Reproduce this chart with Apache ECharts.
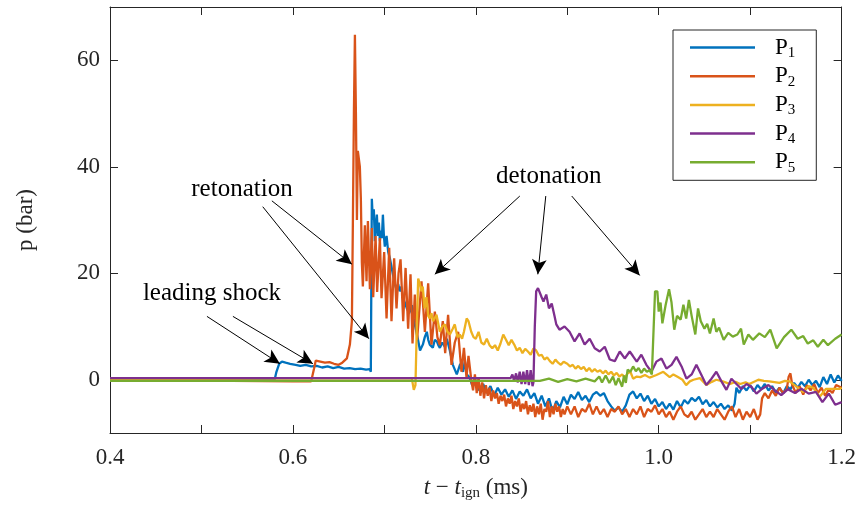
<!DOCTYPE html>
<html><head><meta charset="utf-8">
<script src="https://cdn.jsdelivr.net/npm/echarts@6/dist/echarts.min.js"></script>
<style>html,body{margin:0;padding:0;background:#fff}#c{width:859px;height:508px}</style>
</head><body><div id="c"></div>
<script>
// ---- axis ticks ----
const xTicks = [0.4, 0.5, 0.6, 0.7, 0.8, 0.9, 1.0, 1.1, 1.2];
const xTickLabels = [0.4, 0.6, 0.8, 1.0, 1.2];
const yTicks = [0, 20, 40, 60];
const seriesNames = ['P1', 'P2', 'P3', 'P4', 'P5'];

// ---- data: [t (ms), p (bar)] ----
const p1 = [[0.400,0.0],[0.580,0.0],[0.582,1.5],[0.585,3.0],[0.588,3.4],[0.592,3.2],[0.597,3.0],[0.603,2.8],[0.608,2.6],[0.614,2.8],[0.620,2.5],[0.626,2.6],[0.632,2.3],[0.638,2.5],[0.644,2.2],[0.650,2.4],[0.656,2.1],[0.662,2.2],[0.668,2.0],[0.674,2.1],[0.680,1.9],[0.684,2.0],[0.6852,1.5],
[0.6863,34],[0.6874,30],[0.6885,32],[0.6896,26],[0.6907,29],[0.6918,31],[0.6929,27],[0.6940,29.5],[0.6951,26],[0.6962,28],[0.6973,26.6],[0.6984,31],[0.6995,27],[0.7005,25],[0.7024,27],[0.7042,24],[0.7060,22.8],[0.7075,21.5],[0.7093,19.8],[0.7115,18],[0.7137,16.6],[0.7151,18],[0.7169,16.6],[0.7185,17.5],[0.7202,15.5],[0.7224,14.5],[0.7246,13.4],[0.7272,12.5],[0.7301,14],[0.7320,11.5],[0.7333,10.4],[0.7350,9],[0.7366,7.7],[0.7390,5.5],[0.7421,6.6],[0.7442,8],[0.7464,9],[0.7480,7.5],[0.7497,6.6],[0.7530,6],[0.7552,7.5],[0.7574,7.2],[0.7590,6.5],[0.7607,6],[0.7634,7],[0.7660,6.2],[0.7683,7.7],[0.7716,5.5],[0.7749,2.8],[0.7792,1.0],[0.7830,3],[0.7860,1.5],[0.7880,3.5],[0.7900,1],[0.7930,0.5],[0.7960,-1],[0.7990,0.2],
[0.800,-0.5],[0.804,-2.0],[0.808,-0.8],[0.812,-2.5],[0.816,-1.2],[0.820,-3.0],[0.824,-1.5],[0.828,-2.8],[0.832,-1.8],[0.836,-3.2],[0.840,-2.0],[0.844,-3.6],[0.848,-2.2],[0.852,-3.0],[0.856,-1.8],[0.860,-3.5],[0.864,-2.5],[0.868,-4.5],[0.872,-3.0],[0.876,-5.0],[0.880,-3.5],[0.884,-6.0],[0.888,-4.0],[0.892,-5.2],[0.896,-3.2],[0.900,-4.6],[0.904,-2.8],[0.908,-3.6],[0.912,-2.3],[0.916,-3.8],[0.920,-3.0],[0.924,-4.2],[0.928,-2.8],[0.932,-2.3],[0.936,-3.0],[0.940,-2.5],[0.944,-4.0],[0.948,-5.0],[0.952,-5.8],[0.956,-5.2],[0.960,-6.0],[0.964,-4.8],[0.968,-2.8],[0.972,-2.2],[0.976,-3.5],[0.980,-2.6],[0.984,-4.0],[0.988,-3.0],[0.992,-4.5],[0.996,-3.6],
[1.000,-5.0],[1.004,-4.2],[1.008,-5.5],[1.012,-4.5],[1.016,-5.6],[1.020,-4.0],[1.024,-5.2],[1.028,-3.8],[1.032,-4.5],[1.036,-3.4],[1.040,-4.0],[1.044,-3.2],[1.048,-4.6],[1.052,-3.8],[1.056,-5.0],[1.060,-4.2],[1.064,-5.2],[1.068,-4.5],[1.072,-5.5],[1.076,-4.8],[1.080,-5.8],[1.083,-4.5],[1.085,-1.5],[1.088,-2.5],[1.092,-1.2],[1.096,-2.0],[1.100,-1.0],[1.104,-2.2],[1.108,-1.0],[1.112,-1.8],[1.116,-0.8],[1.120,-2.0],[1.124,-1.2],[1.128,-2.4],[1.132,-1.5],[1.136,-2.6],[1.140,-1.2],[1.144,-1.8],[1.148,-0.6],[1.152,-1.5],[1.156,-0.4],[1.160,-1.2],[1.164,0.0],[1.168,-1.0],[1.172,-0.2],[1.176,-1.4],[1.180,0.5],[1.184,-0.8],[1.188,1.0],[1.192,-0.5],[1.196,0.8],[1.200,-0.2]];

const p2 = [[0.400,0.0],[0.600,-0.3],[0.620,-0.3],[0.622,0],[0.623,2.0],[0.625,3.6],[0.630,3.4],[0.635,3.2],[0.640,3.3],[0.645,3.0],[0.650,2.8],[0.654,3.2],[0.6590,4.0],[0.6623,6.6],[0.6645,11],[0.6656,30],[0.6667,50],[0.6678,64.8],[0.6689,50],[0.6700,30],[0.6710,43],[0.6732,40],[0.6743,34],[0.6754,22],[0.6765,17.5],[0.6787,29],[0.6805,18.5],[0.6820,29.8],[0.6842,17],[0.6863,28.5],[0.6878,15.5],[0.6904,27],[0.6921,16.5],[0.6951,26.6],[0.6969,15.3],[0.6998,24],[0.7024,11.5],[0.7053,24.8],[0.7078,11],[0.7107,22.8],[0.7133,13.4],[0.7155,20],[0.7177,22.6],[0.7206,11],[0.7232,21],[0.7260,9.6],[0.7286,19.8],[0.7308,6.8],[0.7333,16],[0.7358,7.5],[0.7406,18.5],[0.7443,9],[0.7479,18.1],[0.7515,6.6],[0.7552,12.8],[0.7580,8],[0.7607,6.5],[0.7639,11],[0.7665,5],[0.7697,12.2],[0.7734,2.8],[0.7770,7],[0.7807,9],[0.7843,1.5],[0.7870,6.0],[0.7898,0.5],[0.7920,4.5],[0.7953,-0.4],[0.7970,-2.0],[0.7990,1.0],
[0.8010,-2.5],[0.8030,0.5],[0.8050,-3.0],[0.8070,-0.5],[0.8090,-3.5],[0.8110,-1.0],[0.8130,-3.0],[0.8150,-1.5],[0.8170,-4.0],[0.8190,-2.0],[0.8210,-3.5],[0.8230,-2.5],[0.8250,-4.5],[0.8270,-3.0],[0.8290,-4.0],[0.8310,-2.8],[0.8330,-5.0],[0.8350,-3.5],[0.8370,-4.5],[0.8390,-3.0],[0.8410,-5.5],[0.8430,-4.0],[0.8450,-5.0],[0.8470,-3.5],[0.8490,-6.0],[0.8510,-4.5],[0.8530,-5.5],[0.8550,-4.0],[0.8570,-6.5],[0.8590,-4.8],[0.8610,-6.0],[0.8630,-4.5],[0.8650,-7.0],[0.8670,-5.0],[0.8690,-6.5],[0.8710,-4.5],[0.8730,-7.5],[0.8750,-5.5],[0.8770,-6.0],[0.8790,-4.0],[0.8810,-7.0],[0.8830,-5.0],[0.8850,-6.5],[0.8870,-4.5],[0.8890,-6.0],[0.8910,-5.0],[0.8930,-7.0],[0.8950,-5.5],[0.8970,-6.5],
[0.9000,-5.0],[0.9040,-6.5],[0.9080,-5.0],[0.9120,-7.0],[0.9160,-5.5],[0.9200,-6.0],[0.9240,-4.5],[0.9280,-6.5],[0.9320,-5.0],[0.9360,-6.5],[0.9400,-5.5],[0.9440,-7.0],[0.9480,-5.5],[0.9520,-6.0],[0.9560,-5.0],[0.9600,-6.5],[0.9640,-5.5],[0.9680,-7.0],[0.9720,-5.5],[0.9760,-6.5],[0.9800,-5.0],[0.9840,-7.0],[0.9880,-5.5],[0.9920,-6.0],[0.9960,-4.8],[1.0000,-6.5],[1.0040,-5.5],[1.0080,-7.0],[1.0120,-6.0],[1.0160,-7.5],[1.0200,-6.0],[1.0240,-5.0],[1.0280,-6.5],[1.0320,-7.0],[1.0360,-6.0],[1.0400,-7.5],[1.0440,-6.5],[1.0480,-5.5],[1.0520,-7.0],[1.0560,-6.0],[1.0600,-7.0],[1.0640,-5.5],[1.0680,-6.5],[1.0720,-7.5],[1.0760,-6.0],[1.0800,-5.0],[1.0840,-7.0],[1.0880,-5.5],[1.0920,-7.5],[1.0960,-6.0],[1.1000,-7.0],[1.1040,-5.5],[1.1080,-7.5],[1.1110,-6.5],[1.1130,-3.5],[1.1160,-2.5],[1.1200,-3.5],[1.1240,-2.0],[1.1280,-3.0],[1.1320,-1.5],[1.1360,-2.5],[1.1400,-1.8],[1.1420,0.5],[1.1440,1.2],[1.1460,-1.0],[1.1500,-2.5],[1.1540,-1.2],[1.1580,-2.8],[1.1620,-1.0],[1.1660,-2.0],[1.1700,-0.8],[1.1740,-2.5],[1.1780,-1.5],[1.1820,-3.0],[1.1860,-1.8],[1.1900,-2.5],[1.1940,-1.0],[1.2000,-1.5]];

const p3 = [[0.400,0.1],[0.7300,0.3],[0.7322,-1.9],[0.7340,-1.0],[0.7355,10],[0.7370,19.0],[0.7388,18.0],[0.7406,16.6],[0.7420,17.5],[0.7440,13.4],[0.7460,15.5],[0.7480,12.0],[0.7497,11.5],[0.7515,12.5],[0.7533,11],[0.7570,12.2],[0.7607,9.0],[0.7634,10.0],[0.7661,10.4],[0.7690,9.0],[0.7716,8.5],[0.7745,9.5],[0.7770,10.4],[0.7800,8.0],[0.7825,8.5],[0.7850,7.7],[0.7870,9.0],[0.7900,11.5],[0.7920,11.0],[0.7950,9.0],[0.7975,8.0],[0.8000,7.7],[0.8030,9.0],[0.8060,7.0],[0.8090,6.6],[0.8120,7.7],[0.8150,6.5],[0.8180,5.9],[0.8210,6.5],[0.8240,5.5],[0.8270,6.8],[0.8300,8.5],[0.8330,7.5],[0.8360,6.5],[0.8390,7.5],[0.8420,6.6],[0.8450,5.5],[0.8480,6.0],[0.8510,5.0],[0.8540,5.8],[0.8570,5.3],[0.8600,4.7],[0.8630,5.9],[0.8660,5.5],[0.8690,4.5],[0.8720,4.7],[0.8750,3.8],[0.8780,4.2],[0.8810,3.5],[0.8840,3.0],[0.8870,3.8],[0.8900,3.2],[0.8930,2.8],[0.8960,3.4],[0.9000,3.0],[0.9030,2.5],[0.9060,2.8],[0.9090,2.1],[0.9120,2.6],[0.9150,2.0],[0.9180,2.4],[0.9210,1.6],[0.9240,2.2],[0.9270,1.5],[0.9300,2.0],[0.9330,1.5],[0.9360,1.8],[0.9390,1.2],[0.9420,1.7],[0.9450,1.0],[0.9480,1.5],[0.9510,0.8],[0.9540,1.3],[0.9570,0.6],[0.9600,1.0],[0.9630,0.4],[0.9660,1.2],[0.9690,1.5],[0.9720,0.2],[0.9760,0.6],[0.9800,0.5],[0.9850,0.9],[0.9900,0.4],[0.9975,0.9],[1.0050,1.5],[1.0120,0.5],[1.0160,1.0],[1.0210,0.5],[1.0260,0.0],[1.0300,-1.0],[1.0340,-0.3],[1.0380,0.0],[1.0450,0.3],[1.0520,-1.0],[1.0580,-0.4],[1.0630,0.0],[1.0700,-0.3],[1.0780,-0.8],[1.0840,-0.4],[1.0890,-0.8],[1.0950,-0.5],[1.0990,-0.8],[1.1090,0.0],[1.1150,-0.2],[1.1210,-0.3],[1.1320,-0.6],[1.1380,-0.2],[1.1430,-0.3],[1.1500,-1.2],[1.1580,-2.3],[1.1640,-1.2],[1.1690,-1.5],[1.1760,-3.2],[1.1830,-1.7],[1.1900,-1.7],[1.1980,-1.7],[1.2000,-1.5]];

const p4 = [[0.400,0.3],[0.838,0.3],[0.840,1.0],[0.842,-0.3],[0.844,1.2],[0.846,-0.5],[0.848,1.5],[0.850,-0.8],[0.852,1.5],[0.854,-0.8],[0.856,1.8],[0.858,-1.0],[0.860,1.8],[0.862,-1.2],[0.8630,-0.5],[0.8645,10],[0.8660,16.6],[0.8680,17.2],[0.8700,17.0],[0.8720,15.5],[0.8740,14.7],[0.8770,16.0],[0.8800,13.4],[0.8830,14.3],[0.8860,12.0],[0.8880,10.4],[0.8915,9.4],[0.8970,10.0],[0.9025,9.0],[0.9080,7.2],[0.9135,8.7],[0.9190,6.6],[0.9245,7.7],[0.9300,5.9],[0.9355,5.3],[0.9410,6.2],[0.9465,3.8],[0.9520,3.5],[0.9574,5.3],[0.9628,4.0],[0.9683,5.3],[0.9716,4.5],[0.9760,3.4],[0.9810,4.7],[0.9865,2.8],[0.9920,1.5],[0.9974,3.4],[1.0030,4.0],[1.0084,2.1],[1.0140,2.8],[1.0194,4.3],[1.0250,2.5],[1.0303,0.2],[1.0360,1.0],[1.0412,2.8],[1.0467,0.9],[1.0520,-1.0],[1.0577,0.2],[1.0630,1.5],[1.0686,-0.3],[1.0740,-1.9],[1.0795,0.2],[1.0850,-0.8],[1.0904,-1.7],[1.0960,-0.8],[1.1013,-1.3],[1.1068,-2.6],[1.1123,-1.8],[1.1200,-1.0],[1.1270,-2.0],[1.1340,-2.9],[1.1410,-1.8],[1.1490,-2.5],[1.1560,-1.7],[1.1640,-2.6],[1.1720,-2.3],[1.1790,-4.2],[1.1860,-2.6],[1.1930,-4.7],[1.2000,-4.2]];

const p5 = [[0.400,-0.2],[0.870,-0.2],[0.880,0.2],[0.890,-0.4],[0.900,0.1],[0.910,-0.3],[0.920,0.2],[0.930,-0.3],[0.935,0.6],[0.938,-0.5],[0.942,0.8],[0.946,-0.6],[0.950,0.6],[0.953,-1.0],[0.956,0.3],[0.960,-1.3],[0.962,0.8],[0.964,-0.6],[0.966,1.9],[0.969,1.5],[0.972,2.5],[0.975,1.6],[0.978,2.2],[0.981,1.3],[0.984,2.1],[0.987,1.5],[0.990,1.8],[0.9925,1.0],[0.9935,0.9],[0.9945,10],[0.9960,16.6],[0.9985,16.6],[1.0000,12.8],[1.0020,14.5],[1.0040,10.6],[1.0075,14],[1.0113,17.0],[1.0140,14.5],[1.0170,9.4],[1.0200,12.0],[1.0240,11.3],[1.0270,14.1],[1.0300,11.5],[1.0330,15],[1.0360,12.0],[1.0400,8.5],[1.0430,13.4],[1.0460,11.0],[1.0500,9.6],[1.0530,10.5],[1.0560,8.7],[1.0600,11.5],[1.0630,9.0],[1.0660,9.8],[1.0710,7.5],[1.0760,8.8],[1.0810,8.1],[1.0860,8.5],[1.0900,9.6],[1.0930,6.6],[1.0980,8.5],[1.1030,7.5],[1.1100,8.7],[1.1160,8.0],[1.1220,9.4],[1.1290,5.9],[1.1370,8.0],[1.1450,9.4],[1.1520,7.7],[1.1580,8.2],[1.1630,6.8],[1.1690,7.4],[1.1740,6.2],[1.1800,7.5],[1.1850,6.5],[1.1930,7.7],[1.2000,8.5]];

// ---- annotations (data coordinates) ----
const arrows = [
  [[0.577, 33.6], [0.6645, 21.7]],
  [[0.567, 32.5], [0.6831, 7.7]],
  [[0.506, 11.9], [0.5858, 3.0]],
  [[0.5344, 11.9], [0.6219, 3.0]],
  [[0.8481, 34.5], [0.7552, 19.8]],
  [[0.8765, 34.5], [0.8678, 19.8]],
  [[0.9049, 34.5], [0.9792, 19.6]]
];
const noteTexts = ['retonation', 'leading shock', 'detonation'];
const notePos = [[0.5443, 35.8], [0.5115, 16.2], [0.8798, 38.1]];

const colors = ['#0072BD', '#D95319', '#EDB120', '#7E2F8E', '#77AC30'];
const allData = [p1, p2, p3, p4, p5];
const FONT = 'Liberation Serif';
const AX = '#262626';

const chart = echarts.init(document.getElementById('c'), null, {renderer: 'canvas'});

const series = allData.map((d, i) => ({
  name: seriesNames[i],
  type: 'line',
  data: d,
  showSymbol: false,
  symbol: 'none',
  lineStyle: {width: 2.3, color: colors[i]},
  itemStyle: {color: colors[i]},
  emphasis: {disabled: true},
  animation: false,
  z: 2 + i
}));
series[4].markLine = {
  silent: true,
  symbol: ['none', 'arrow'],
  symbolSize: [11, 15],
  lineStyle: {color: '#000', width: 1, type: 'solid'},
  label: {show: false},
  emphasis: {disabled: true},
  animation: false,
  data: arrows.map(a => [{coord: a[0]}, {coord: a[1]}])
};

const axisCommon = {
  axisLine: {show: true, onZero: false, lineStyle: {color: AX, width: 1}},
  splitLine: {show: false}
};

chart.setOption({
  animation: false,
  backgroundColor: '#fff',
  grid: {left: 110, right: 17, top: 7, bottom: 75, containLabel: false},
  legend: {
    orient: 'vertical',
    left: 673, top: 30,
    padding: [6, 21, 5, 17],
    itemGap: 4.2,
    itemWidth: 65, itemHeight: 2.5,
    icon: 'rect',
    borderColor: AX, borderWidth: 1, borderRadius: 0,
    backgroundColor: '#fff',
    data: seriesNames,
    formatter: n => '{g|}{m|P}{s|' + n.slice(1) + '}',
    textStyle: {
      fontFamily: FONT, color: '#000',
      rich: {
        g: {width: 15, lineHeight: 26},
        m: {fontFamily: FONT, fontSize: 23, lineHeight: 26, color: '#000'},
        s: {fontFamily: FONT, fontSize: 15, lineHeight: 12, verticalAlign: 'bottom', color: '#000'}
      }
    }
  },
  xAxis: [
    Object.assign({}, axisCommon, {
      type: 'value', min: 0.4, max: 1.2, position: 'bottom',
      axisTick: {show: true, inside: true, length: 8, customValues: xTicks, lineStyle: {color: AX}},
      axisLabel: {show: true, customValues: xTickLabels, margin: 13, formatter: v => v.toFixed(1),
        fontFamily: FONT, fontSize: 23, color: AX},
      name: '{it|t} − {it|t}{s|ign} (ms)',
      nameLocation: 'middle', nameGap: 42,
      nameTextStyle: {fontFamily: FONT, fontSize: 23, color: AX,
        rich: {
          it: {fontFamily: FONT, fontStyle: 'italic', fontSize: 23, lineHeight: 26, color: AX},
          s: {fontFamily: FONT, fontSize: 15, lineHeight: 12, verticalAlign: 'bottom', color: AX}
        }}
    }),
    Object.assign({}, axisCommon, {
      type: 'value', min: 0.4, max: 1.2, position: 'top',
      axisTick: {show: true, inside: true, length: 8, customValues: xTicks, lineStyle: {color: AX}},
      axisLabel: {show: false}
    })
  ],
  yAxis: [
    Object.assign({}, axisCommon, {
      type: 'value', min: -10, max: 70, position: 'left',
      axisTick: {show: true, inside: true, length: 8, customValues: yTicks, lineStyle: {color: AX}},
      axisLabel: {show: true, customValues: yTicks, margin: 10, fontFamily: FONT, fontSize: 23, color: AX},
      name: 'p (bar)', nameLocation: 'middle', nameGap: 73, nameRotate: 90,
      nameTextStyle: {fontFamily: FONT, fontSize: 23, color: AX}
    }),
    Object.assign({}, axisCommon, {
      type: 'value', min: -10, max: 70, position: 'right',
      axisTick: {show: true, inside: true, length: 8, customValues: yTicks, lineStyle: {color: AX}},
      axisLabel: {show: false}
    })
  ],
  series: series
});

// annotation texts positioned through the axes
const graphics = noteTexts.map((t, i) => {
  const pt = chart.convertToPixel({xAxisIndex: 0, yAxisIndex: 0}, notePos[i]);
  return {
    type: 'text', x: pt[0], y: pt[1], z: 50, silent: true,
    style: {text: t, fontFamily: FONT, fontSize: 25, fill: '#000', align: 'center', verticalAlign: 'middle'}
  };
});
chart.setOption({graphic: graphics});
</script></body></html>
